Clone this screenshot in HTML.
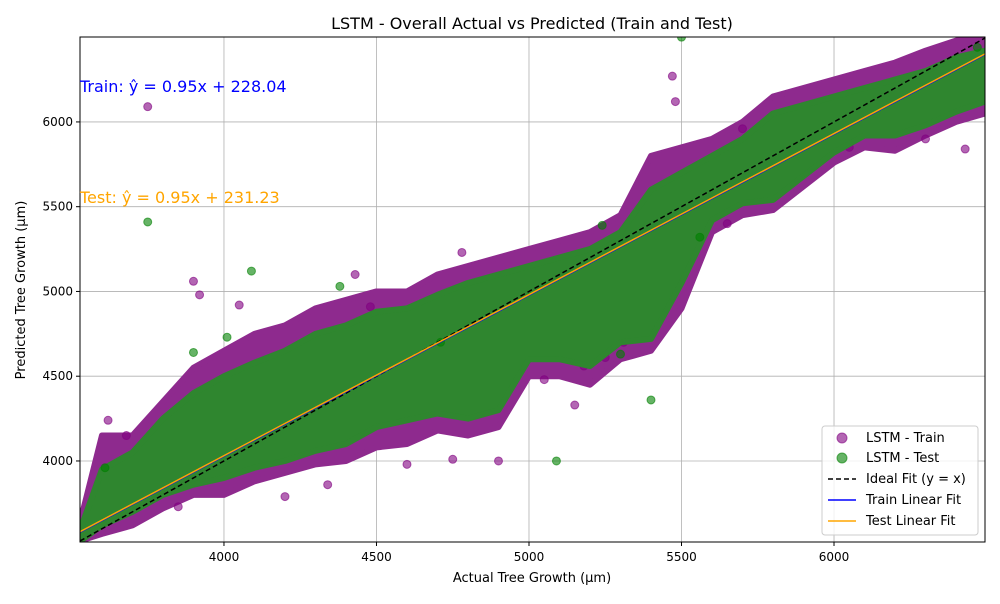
<!DOCTYPE html>
<html><head><meta charset="utf-8"><style>
body{margin:0;background:#fff;font-family:"DejaVu Sans","Liberation Sans",sans-serif}
</style></head><body>
<svg id="chart" width="1000" height="600" xmlns="http://www.w3.org/2000/svg" font-family="DejaVu Sans, Liberation Sans, sans-serif">
<defs><clipPath id="plotclip"><rect x="80" y="37" width="905" height="505"/></clipPath></defs>
<rect width="1000" height="600" fill="#fff"/>
<text x="532" y="29" font-size="16" text-anchor="middle">LSTM - Overall Actual vs Predicted (Train and Test)</text>
<g id="grid"></g>
<g id="marks" clip-path="url(#plotclip)"></g>
<g id="lines" clip-path="url(#plotclip)"></g>
<rect x="80" y="37" width="905" height="505" fill="none" stroke="#000" stroke-width="1"/>
<g id="ticks"></g>
<text x="532" y="582" font-size="13" text-anchor="middle">Actual Tree Growth (µm)</text>
<text transform="translate(25,290) rotate(-90)" font-size="13" text-anchor="middle">Predicted Tree Growth (µm)</text>
<text x="80" y="92" font-size="16" fill="#0000ff">Train: ŷ = 0.95x + 228.04</text>
<text x="80" y="203" font-size="16" fill="#ffa500">Test: ŷ = 0.95x + 231.23</text>
<g>
<rect x="822" y="426" width="156" height="109" rx="3" fill="#fff" fill-opacity="0.8" stroke="#ccc"/>
<circle cx="842" cy="438" r="5" fill="#800080" fill-opacity="0.6" stroke="#800080" stroke-opacity="0.6"/>
<text x="866" y="442" font-size="13">LSTM - Train</text>
<circle cx="842" cy="458" r="5" fill="#008000" fill-opacity="0.6" stroke="#008000" stroke-opacity="0.6"/>
<text x="866" y="462" font-size="13">LSTM - Test</text>
<line x1="828" y1="479" x2="856" y2="479" stroke="#000" stroke-width="1.5" stroke-dasharray="5,3"/>
<text x="866" y="483" font-size="13">Ideal Fit (y = x)</text>
<line x1="828" y1="500" x2="856" y2="500" stroke="#0000ff" stroke-width="1.5"/>
<text x="866" y="504" font-size="13">Train Linear Fit</text>
<line x1="828" y1="521" x2="856" y2="521" stroke="#ffa500" stroke-width="1.5"/>
<text x="866" y="525" font-size="13">Test Linear Fit</text>
</g>
</svg>
<script>
const xTicks=[4000,4500,5000,5500,6000];
const yTicks=[4000,4500,5000,5500,6000];
const binX=[3530,3600,3700,3800,3900,4000,4100,4200,4300,4400,4500,4600,4700,4800,4900,5000,5100,5200,5300,5400,5500,5600,5700,5800,5900,6000,6100,6200,6300,6400,6495];
const trainUpper=[3650,4150,4150,4350,4550,4650,4750,4800,4900,4950,5000,5000,5100,5150,5200,5250,5300,5350,5450,5800,5850,5900,6000,6150,6200,6250,6300,6350,6420,6480,6500];
const trainLower=[3530,3570,3620,3720,3800,3800,3880,3930,3980,4000,4080,4100,4180,4150,4200,4500,4500,4450,4600,4650,4900,5350,5450,5480,5620,5760,5850,5830,5920,6000,6050];
const testUpper=[3600,3950,4050,4250,4400,4500,4580,4650,4750,4800,4880,4900,4980,5050,5100,5150,5200,5250,5350,5600,5700,5800,5900,6050,6100,6150,6200,6250,6300,6380,6420];
const testLower=[3530,3620,3700,3800,3860,3900,3960,4000,4060,4100,4200,4240,4280,4250,4300,4600,4600,4560,4700,4720,5050,5420,5520,5540,5680,5820,5920,5920,5980,6060,6120];
const trainX=[3750,3620,3680,3900,3920,4050,4430,4480,4780,4900,4750,5050,5150,5180,5470,5480,5510,5560,5650,6050,6300,6430,3850,4200,4600,5250,5700,5950,4340,5310];
const trainY=[6090,4240,4150,5060,4980,4920,5100,4910,5230,4000,4010,4480,4330,4560,6270,6120,5220,5440,5400,5850,5900,5840,3730,3790,3980,4610,5960,5800,3860,4700];
const testX=[3750,4090,3900,4010,4380,4710,5400,5500,5560,3610,5240,5090,5300,6470];
const testY=[5410,5120,4640,4730,5030,4700,4360,6500,5320,3960,5390,4000,4630,6440];
const xMin=3528,xMax=6495,yMin=3522,yMax=6501;
const X=v=>80+(v-xMin)/(xMax-xMin)*905;
const Y=v=>542-(v-yMin)/(yMax-yMin)*505;
const NS="http://www.w3.org/2000/svg";
const mk=(t,a,p)=>{const e=document.createElementNS(NS,t);for(const k in a)e.setAttribute(k,a[k]);p.appendChild(e);return e;};
const grid=document.getElementById('grid'),ticks=document.getElementById('ticks'),marks=document.getElementById('marks'),lines=document.getElementById('lines');
xTicks.forEach(v=>{
 const g=mk('line',{x1:X(v),x2:X(v),y1:37,y2:542,stroke:'#b0b0b0','stroke-width':0.8},grid);
 
 
 mk('line',{x1:X(v),x2:X(v),y1:542,y2:546,stroke:'#000'},ticks);
 const t=mk('text',{x:X(v),y:561,'font-size':12,'text-anchor':'middle'},ticks);t.textContent=v;
 
 
});
yTicks.forEach(v=>{
 const g=mk('line',{x1:80,x2:985,y1:Y(v),y2:Y(v),stroke:'#b0b0b0','stroke-width':0.8},grid);
 
 
 mk('line',{x1:76,x2:80,y1:Y(v),y2:Y(v),stroke:'#000'},ticks);
 const t=mk('text',{x:73,y:Y(v)+4,'font-size':12,'text-anchor':'end'},ticks);t.textContent=v;
 
 
});
function band(up,lo,fill,name){
 let d='M'+binX.map((x,i)=>X(x)+','+Y(up[i])).join('L');
 for(let i=binX.length-1;i>=0;i--)d+='L'+X(binX[i])+','+Y(lo[i]);
 const p=mk('path',{d:d+'Z',fill:fill,stroke:fill,'stroke-width':6,'stroke-linejoin':'round'},marks);
 
 
}
band(trainUpper,trainLower,'#8e2a8e','train-point-cloud');
trainX.forEach((x,i)=>{const c=mk('circle',{cx:X(x),cy:Y(trainY[i]),r:4,fill:'#800080','fill-opacity':0.6,stroke:'#800080','stroke-opacity':0.6},marks);
 
 });
band(testUpper,testLower,'#2f862f','test-point-cloud');
testX.forEach((x,i)=>{const c=mk('circle',{cx:X(x),cy:Y(testY[i]),r:4,fill:'#008000','fill-opacity':0.6,stroke:'#008000','stroke-opacity':0.6},marks);
 
 });
function fit(m,b,col,name,dash){
 const x0=xMin,x1=xMax;
 const l=mk('line',{x1:X(x0),y1:Y(m*x0+b),x2:X(x1),y2:Y(m*x1+b),stroke:col,'stroke-width':1.5},lines);
 if(dash)l.setAttribute('stroke-dasharray','5,3');
 
 
}
fit(1,0,'#000','ideal-fit-line',true);
fit(0.95,228.04,'#0000ff','train-fit-line');
fit(0.95,231.23,'#ffa500','test-fit-line');
</script>
</body></html>
